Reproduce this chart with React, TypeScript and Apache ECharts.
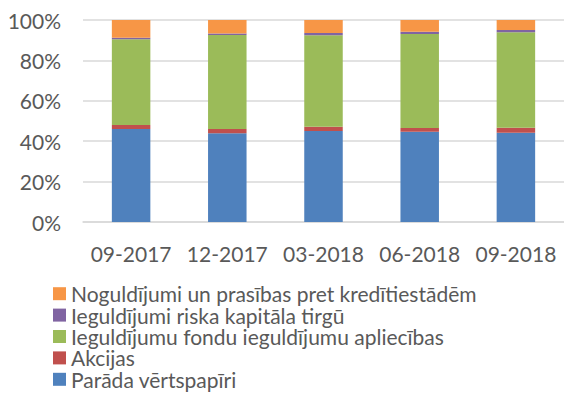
import React, { useEffect, useRef } from "react";
import * as echarts from "echarts";

const categories = ["09-2017", "12-2017", "03-2018", "06-2018", "09-2018"];
const seriesNames = [
  "Parāda vērtspapīri",
  "Akcijas",
  "Ieguldījumu fondu ieguldījumu apliecības",
  "Ieguldījumi riska kapitāla tirgū",
  "Noguldījumi un prasības pret kredītiestādēm",
];
const debtSecurities = [46.0, 43.9, 45.0, 44.7, 44.2];
const shares = [2.0, 2.1, 2.2, 1.8, 2.5];
const fundCertificates = [42.5, 46.6, 45.2, 46.6, 47.2];
const ventureCapital = [0.7, 0.7, 1.2, 1.1, 1.2];
const deposits = [8.8, 6.7, 6.4, 5.8, 4.9];
const colors = ["#4F81BD", "#C0504D", "#9BBB59", "#8064A2", "#F79646"];
const yTicks = { min: 0, max: 100, interval: 20 };

export default function App() {
  const ref = useRef<HTMLDivElement>(null);
  useEffect(() => {
    if (!ref.current) return;
    const chart = echarts.init(ref.current, undefined, { renderer: "svg" });
    const values = [debtSecurities, shares, fundCertificates, ventureCapital, deposits];
    const font = "Lato";
    chart.setOption({
      animation: false,
      color: colors,
      grid: { left: 83, right: -3, top: 20, bottom: 190, containLabel: false },
      legend: {
        orient: "vertical",
        left: 48,
        top: 278,
        itemWidth: 13,
        itemHeight: 13,
        itemGap: 0,
        icon: "rect",
        data: [...seriesNames].reverse(),
        textStyle: { fontFamily: font, fontSize: 21, color: "#595959", lineHeight: 21.4 },
      },
      xAxis: {
        type: "category",
        data: categories,
        axisTick: { show: false },
        axisLine: { lineStyle: { color: "#D9D9D9", width: 1.5 } },
        axisLabel: { interval: 0, fontFamily: font, fontSize: 21, color: "#595959", margin: 21 },
      },
      yAxis: {
        type: "value",
        min: yTicks.min,
        max: yTicks.max,
        interval: yTicks.interval,
        axisLabel: { fontFamily: font, fontSize: 21, color: "#595959", margin: 22, formatter: "{value}%" },
        axisLine: { show: false },
        axisTick: { show: false },
        splitLine: { lineStyle: { color: "#D9D9D9", width: 1.5 } },
      },
      series: seriesNames.map((name, i) => ({
        name,
        type: "bar",
        stack: "total",
        barWidth: 38.5,
        data: values[i],
        itemStyle: { color: colors[i] },
      })),
    });
    return () => chart.dispose();
  }, []);
  return (
    <div
      ref={ref}
      style={{ position: "absolute", left: 0, top: 0, width: 564, height: 412, background: "#fff" }}
    />
  );
}
